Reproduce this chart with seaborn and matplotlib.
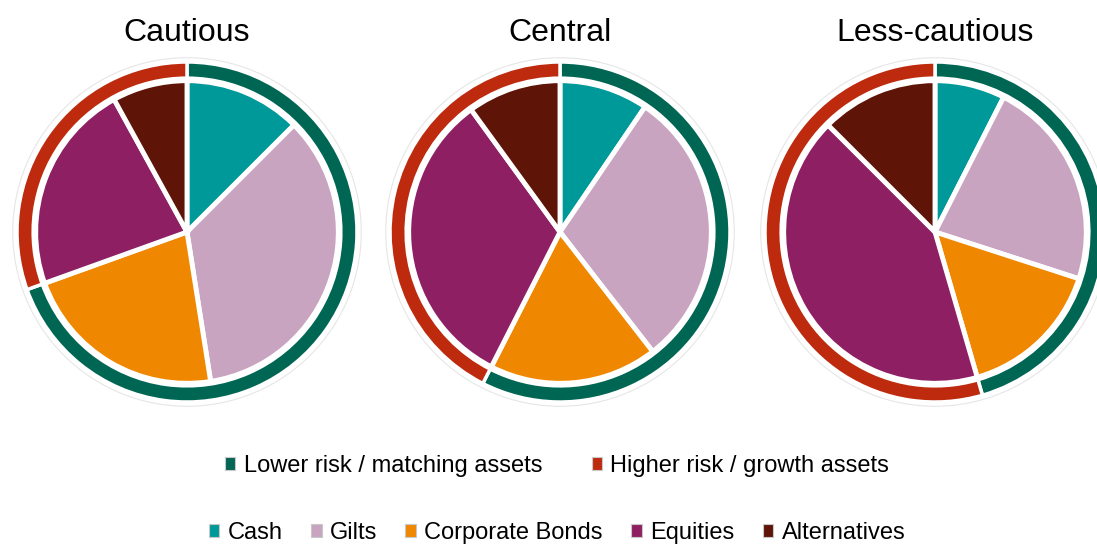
import matplotlib
matplotlib.use("Agg")
import matplotlib.pyplot as plt
import seaborn as sns
from matplotlib.patches import Patch, Circle

# asset allocation (%)
asset_classes = ["Cash", "Gilts", "Corporate Bonds", "Equities", "Alternatives"]
portfolios = ["Cautious", "Central", "Less-cautious"]
cautious = [12.5, 35.0, 22.0, 22.5, 8.0]
central = [9.5, 30.0, 18.0, 32.5, 10.0]
less_cautious = [7.5, 22.5, 15.5, 42.0, 12.5]
risk_groups = ["Lower risk / matching assets", "Higher risk / growth assets"]

asset_colors = ["#009999", "#C8A4C1", "#F08700", "#8E1F62", "#5E1508"]
risk_colors = ["#006654", "#BD2A0E"]

sns.set_theme(style="white")
plt.rcParams["font.family"] = ["Liberation Sans", "DejaVu Sans"]
plt.rcParams["text.color"] = "black"

W, H = 1097, 545
fig = plt.figure(figsize=(W / 100, H / 100), dpi=100)

centres = [187, 560, 935]
R = 170  # outer radius in px
lim = 1.04

for name, vals, cx in zip(portfolios, [cautious, central, less_cautious], centres):
    half = R * lim
    ax = fig.add_axes([(cx - half) / W, (H - 232 - half) / H, 2 * half / W, 2 * half / H])
    groups = [sum(vals[:3]), sum(vals[3:])]
    # outer ring: matching vs growth
    ax.pie(groups, colors=risk_colors, startangle=90, counterclock=False, radius=1.0,
           wedgeprops=dict(width=0.095, edgecolor="white", linewidth=2.5))
    # inner pie: asset classes
    ax.pie(vals, colors=asset_colors, startangle=90, counterclock=False, radius=0.89,
           wedgeprops=dict(edgecolor="white", linewidth=3.5))
    ax.add_patch(Circle((0, 0), 1.025, fill=False, edgecolor="#e6e6e6", linewidth=0.8))
    ax.set_xlim(-lim, lim)
    ax.set_ylim(-lim, lim)
    ax.set_aspect("equal")
    ax.axis("off")
    fig.text(cx / W, 1 - 33 / H, name, ha="center", va="center", fontsize=23, color="black")

sq = dict(edgecolor="#c8c8c8", linewidth=0.8)
risk_handles = [Patch(facecolor=c, **sq) for c in risk_colors]
asset_handles = [Patch(facecolor=c, **sq) for c in asset_colors]

fig.legend(risk_handles, risk_groups, loc="center", bbox_to_anchor=(557 / W, 1 - 466 / H),
           ncol=2, frameon=False, fontsize=17, handlelength=0.45, handleheight=0.45,
           handletextpad=0.35, columnspacing=2.1, borderpad=0, labelcolor="black")
fig.legend(asset_handles, asset_classes, loc="center", bbox_to_anchor=(557 / W, 1 - 533 / H),
           ncol=5, frameon=False, fontsize=17, handlelength=0.45, handleheight=0.45,
           handletextpad=0.35, columnspacing=1.2, borderpad=0, labelcolor="black")

fig.savefig("out.png", dpi=100)
